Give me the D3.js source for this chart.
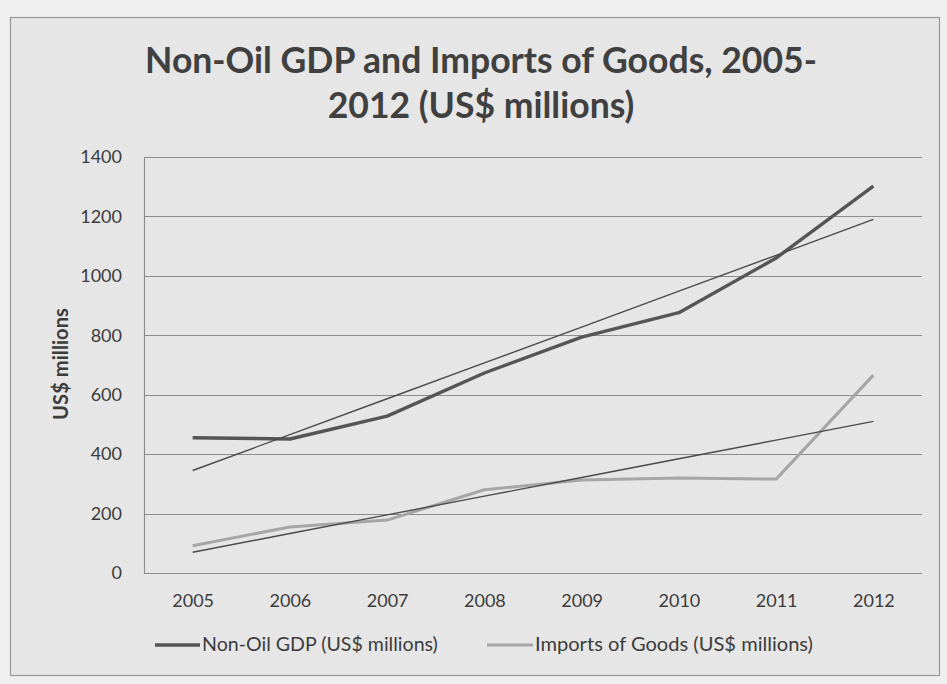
<!DOCTYPE html>
<html>
<head>
<meta charset="utf-8">
<script src="https://cdn.jsdelivr.net/npm/d3@7"></script>
<style>
  html, body { margin: 0; padding: 0; background: #efefef; }
  svg { display: block; }
  text { font-family: Lato, "Open Sans", sans-serif; fill: #3c3c3c; }
</style>
</head>
<body>
<svg id="chart" width="947" height="684"></svg>
<script>
// ---- data ----
const years = ["2005", "2006", "2007", "2008", "2009", "2010", "2011", "2012"];
const nonOilGDP = [455, 451, 528, 673, 794, 876, 1060, 1302];
const importsGoods = [92, 155, 178, 280, 313, 320, 316, 666];
const yTicks = [0, 200, 400, 600, 800, 1000, 1200, 1400];
const seriesNames = ["Non-Oil GDP (US$ millions)", "Imports of Goods (US$ millions)"];
const titleLines = ["Non-Oil GDP and Imports of Goods, 2005-", "2012 (US$ millions)"];
const yAxisTitle = "US$ millions";

// linear trendline (least squares, like a spreadsheet trendline)
function trend(vals) {
  const xs = vals.map((_, i) => i + 1);
  const mx = d3.mean(xs), my = d3.mean(vals);
  let sxy = 0, sxx = 0;
  xs.forEach((x, i) => { sxy += (x - mx) * (vals[i] - my); sxx += (x - mx) * (x - mx); });
  const b = sxy / sxx, a = my - b * mx;
  return xs.map(x => a + b * x);
}

const svg = d3.select("#chart");

// outer chart frame
svg.append("rect").attr("x", 10.5).attr("y", 17.5).attr("width", 929).attr("height", 658)
  .attr("fill", "#e6e6e6").attr("stroke", "#9a9a9a").attr("stroke-width", 1.2);

const plot = { left: 144, right: 922, top: 157, bottom: 573 };

const x = d3.scalePoint().domain(years).range([plot.left, plot.right]).padding(0.5);
const y = d3.scaleLinear().domain([0, 1400]).range([plot.bottom, plot.top]);

// gridlines
svg.append("g").selectAll("line").data(yTicks.filter(d => d > 0)).join("line")
  .attr("x1", plot.left).attr("x2", plot.right)
  .attr("y1", d => Math.round(y(d)) + 0.5).attr("y2", d => Math.round(y(d)) + 0.5)
  .attr("stroke", "#8c8c8c").attr("stroke-width", 1.1);

// axes
const yAxis = d3.axisLeft(y).tickValues(yTicks).tickFormat(d3.format("d")).tickSize(0).tickPadding(22);
const gy = svg.append("g").attr("transform", `translate(${plot.left},0)`).call(yAxis);
gy.select(".domain").attr("stroke", "#8c8c8c").attr("stroke-width", 1.1);
gy.selectAll("text").style("font-size", "18px").style("fill", "#3c3c3c").style("font-family", "Lato, sans-serif");

const xAxis = d3.axisBottom(x).tickSize(0).tickPadding(21);
const gx = svg.append("g").attr("transform", `translate(0,${plot.bottom + 0.5})`).call(xAxis);
gx.select(".domain").attr("stroke", "#8c8c8c").attr("stroke-width", 1.1).attr("d", `M${plot.left},0H${plot.right}`);
gx.selectAll("text").style("font-size", "18px").style("fill", "#3c3c3c").style("font-family", "Lato, sans-serif");

// lines
const line = d3.line().x((d, i) => x(years[i])).y(d => y(d));
const series = [
  { vals: nonOilGDP, color: "#555555", w: 3.4 },
  { vals: importsGoods, color: "#a6a6a6", w: 3.0 }
];
series.forEach(s => {
  svg.append("path").datum(s.vals).attr("d", line)
    .attr("fill", "none").attr("stroke", s.color).attr("stroke-width", s.w)
    .attr("stroke-linejoin", "round");
});
series.forEach(s => {
  svg.append("path").datum(trend(s.vals)).attr("d", line)
    .attr("fill", "none").attr("stroke", "#4a4a4a").attr("stroke-width", 1.4);
});

// helper to fit text width
function fit(sel, target) {
  const fs = parseFloat(sel.style("font-size"));
  const w = sel.node().getComputedTextLength();
  sel.style("font-size", (fs * target / w).toFixed(2) + "px");
}

// title
const t1 = svg.append("text").attr("x", 481).attr("y", 73).attr("text-anchor", "middle")
  .style("font-size", "32px").style("font-weight", "bold").style("fill", "#404040").text(titleLines[0]);
fit(t1, 672);
svg.append("text").attr("x", 481).attr("y", 118).attr("text-anchor", "middle")
  .style("font-size", t1.style("font-size")).style("font-weight", "bold").style("fill", "#404040").text(titleLines[1]);

// y axis title
const yt = svg.append("text").attr("transform", "translate(68,364) rotate(-90)").attr("text-anchor", "middle")
  .style("font-size", "16px").style("font-weight", "bold").style("fill", "#3c3c3c").text(yAxisTitle);
fit(yt, 112);

// legend
const legend = [
  { name: seriesNames[0], color: "#555555", w: 3.4, x0: 155, x1: 200, tx: 202, tw: 236 },
  { name: seriesNames[1], color: "#a6a6a6", w: 3.0, x0: 487, x1: 533, tx: 535, tw: 278 }
];
const lg = svg.append("g");
legend.forEach(l => {
  lg.append("line").attr("x1", l.x0).attr("x2", l.x1).attr("y1", 645).attr("y2", 645)
    .attr("stroke", l.color).attr("stroke-width", l.w);
  const t = lg.append("text").attr("x", l.tx).attr("y", 651).style("font-size", "17px")
    .style("fill", "#3c3c3c").text(l.name);
  fit(t, l.tw);
});
</script>
</body>
</html>
